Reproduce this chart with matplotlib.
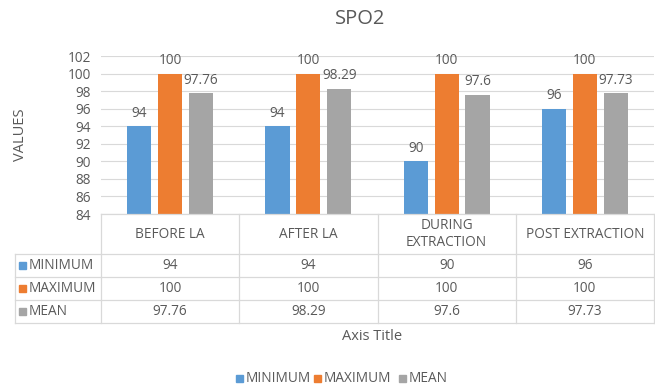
import matplotlib.pyplot as plt
import numpy as np
from matplotlib.patches import Rectangle

categories = ["BEFORE LA", "AFTER LA", "DURING\nEXTRACTION", "POST EXTRACTION"]
series = ["MINIMUM", "MAXIMUM", "MEAN"]
minimum = [94, 94, 90, 96]
maximum = [100, 100, 100, 100]
mean = [97.76, 98.29, 97.6, 97.73]
values = [minimum, maximum, mean]
colors = ["#5B9BD5", "#ED7D31", "#A5A5A5"]

plt.rcParams['font.family'] = ['Open Sans', 'DejaVu Sans']
txt = "#595959"
line_c = "#D9D9D9"
fs = 9.8

W, H = 655, 386
fig = plt.figure(figsize=(W / 100, H / 100), dpi=100)

# plot area in pixels
left, right, top, bottom = 101, 654, 56, 214
ax = fig.add_axes([left / W, 1 - bottom / H, (right - left) / W, (bottom - top) / H])

x = np.arange(len(categories))
width = 0.175
step = 0.224
for i, (name, vals) in enumerate(zip(series, values)):
    pos = x + (i - 1) * step
    ax.bar(pos, [v - 84 for v in vals], width, bottom=84, color=colors[i], zorder=3)
    for p, v in zip(pos, vals):
        ax.text(p, v + 0.6, f"{v:g}", ha="center", va="bottom", fontsize=fs, color=txt)

ax.set_xlim(-0.5, len(categories) - 0.5)
ax.set_ylim(84, 102)
ax.set_yticks(np.arange(84, 103, 2))
ax.set_xticks([])
ax.tick_params(axis="y", length=0, labelsize=fs, labelcolor=txt, pad=7)
ax.grid(axis="y", color=line_c, linewidth=0.8, zorder=0)
for s in ax.spines.values():
    s.set_visible(False)


def fx(px):
    return px / W


def fy(py):
    return 1 - py / H


def hline(y, x0, x1):
    fig.add_artist(plt.Line2D([fx(x0), fx(x1)], [fy(y), fy(y)], color=line_c, linewidth=0.9))


def vline(xp, y0, y1):
    fig.add_artist(plt.Line2D([fx(xp), fx(xp)], [fy(y0), fy(y1)], color=line_c, linewidth=0.9))


# data table
col_w = (right - left) / len(categories)
row_y = [254, 277, 300, 323]
tab_left = 15
hline(bottom, left, right)
for ry in row_y:
    hline(ry, tab_left, right)
for j in range(len(categories) + 1):
    vline(left + j * col_w, bottom, row_y[-1])
vline(tab_left, row_y[0], row_y[-1])

for j, c in enumerate(categories):
    fig.text(fx(left + (j + 0.5) * col_w), fy((bottom + row_y[0]) / 2), c,
             ha="center", va="center", fontsize=fs, color=txt, linespacing=1.1)
for i, (name, vals) in enumerate(zip(series, values)):
    cy = fy((row_y[i] + row_y[i + 1]) / 2)
    fig.add_artist(Rectangle((fx(19), cy - 3.5 / H), 7 / W, 7 / H, color=colors[i]))
    fig.text(fx(29), cy, name, ha="left", va="center", fontsize=fs, color=txt)
    for j, v in enumerate(vals):
        fig.text(fx(left + (j + 0.5) * col_w), cy, f"{v:g}",
                 ha="center", va="center", fontsize=fs, color=txt)

fig.text(fx(20), fy(135), "VALUES", rotation=90, ha="center", va="center", fontsize=10.5, color=txt)
fig.text(fx(372), fy(337), "Axis Title", ha="center", va="center", fontsize=10.5, color=txt)
fig.text(fx(360), fy(19), "SPO2", ha="center", va="center", fontsize=14.5, color=txt)

# legend
leg_x = [236, 314, 399]
for i, name in enumerate(series):
    fig.add_artist(Rectangle((fx(leg_x[i]), fy(378) - 3.5 / H), 7 / W, 7 / H, color=colors[i]))
    fig.text(fx(leg_x[i] + 10), fy(378), name, ha="left", va="center", fontsize=fs, color=txt)

fig.savefig("out.png", dpi=100)
